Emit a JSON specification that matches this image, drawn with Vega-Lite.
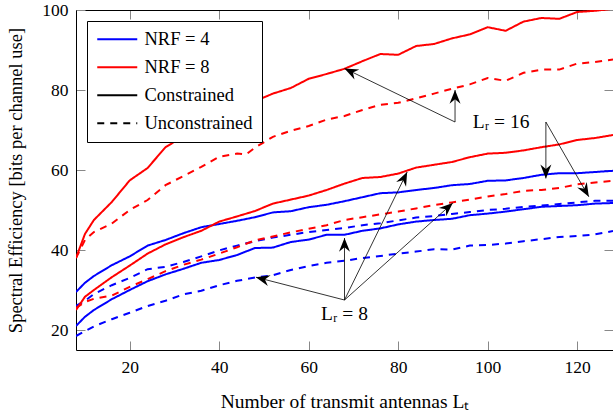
{
"$schema":"https://vega.github.io/schema/vega-lite/v6.json",
"width":537,"height":340,
"autosize":{"type":"none"},
"padding":{"left":76,"top":10,"right":0,"bottom":66},
"config":{
 "font":"Liberation Serif",
 "view":{"stroke":null},
 "text":{"font":"Liberation Serif"},
 "style":{"guide-label":{"font":"Liberation Serif"},"guide-title":{"font":"Liberation Serif"}},
 "axis":{"labelFontSize":17.5,"titleFontSize":18.5,"labelColor":"#000","titleColor":"#000","titleFontWeight":"normal","domainColor":"#000","domainWidth":1,"tickColor":"#888","tickSize":-9,"labelPadding":17,"grid":false,"labelFont":"Liberation Serif","titleFont":"Liberation Serif"},
 "legend":{"padding":9,"strokeColor":"#000","fillColor":"#fff","strokeWidth":1,"cornerRadius":0,"labelFontSize":18.5,"labelColor":"#000","labelFont":"Liberation Serif","labelLimit":0,"symbolType":"M-2.5,0H2.5","symbolSize":256,"symbolStrokeWidth":2,"symbolOffset":12,"labelOffset":18,"rowPadding":9}
},
"layer":[
{
 "data":{"values":[
{"Lt":8,"SE":38,"N":"NRF = 8","T":"Constrained","Lr":16},{"Lt":10,"SE":44,"N":"NRF = 8","T":"Constrained","Lr":16},{"Lt":12,"SE":47.5,"N":"NRF = 8","T":"Constrained","Lr":16},{"Lt":16,"SE":52,"N":"NRF = 8","T":"Constrained","Lr":16},{"Lt":20,"SE":57.4,"N":"NRF = 8","T":"Constrained","Lr":16},{"Lt":24,"SE":60.5,"N":"NRF = 8","T":"Constrained","Lr":16},{"Lt":28,"SE":65.7,"N":"NRF = 8","T":"Constrained","Lr":16},{"Lt":32,"SE":68.4,"N":"NRF = 8","T":"Constrained","Lr":16},{"Lt":36,"SE":71,"N":"NRF = 8","T":"Constrained","Lr":16},{"Lt":40,"SE":73.1,"N":"NRF = 8","T":"Constrained","Lr":16},{"Lt":44,"SE":75.1,"N":"NRF = 8","T":"Constrained","Lr":16},{"Lt":48,"SE":77.2,"N":"NRF = 8","T":"Constrained","Lr":16},{"Lt":52,"SE":79.1,"N":"NRF = 8","T":"Constrained","Lr":16},{"Lt":56,"SE":80.5,"N":"NRF = 8","T":"Constrained","Lr":16},{"Lt":60,"SE":82.8,"N":"NRF = 8","T":"Constrained","Lr":16},{"Lt":64,"SE":84,"N":"NRF = 8","T":"Constrained","Lr":16},{"Lt":68,"SE":85.3,"N":"NRF = 8","T":"Constrained","Lr":16},{"Lt":72,"SE":87.2,"N":"NRF = 8","T":"Constrained","Lr":16},{"Lt":76,"SE":89,"N":"NRF = 8","T":"Constrained","Lr":16},{"Lt":80,"SE":88.8,"N":"NRF = 8","T":"Constrained","Lr":16},{"Lt":84,"SE":91,"N":"NRF = 8","T":"Constrained","Lr":16},{"Lt":88,"SE":91.5,"N":"NRF = 8","T":"Constrained","Lr":16},{"Lt":92,"SE":92.9,"N":"NRF = 8","T":"Constrained","Lr":16},{"Lt":96,"SE":93.9,"N":"NRF = 8","T":"Constrained","Lr":16},{"Lt":100,"SE":95.7,"N":"NRF = 8","T":"Constrained","Lr":16},{"Lt":104,"SE":94.8,"N":"NRF = 8","T":"Constrained","Lr":16},{"Lt":108,"SE":97.1,"N":"NRF = 8","T":"Constrained","Lr":16},{"Lt":112,"SE":98,"N":"NRF = 8","T":"Constrained","Lr":16},{"Lt":116,"SE":97.8,"N":"NRF = 8","T":"Constrained","Lr":16},{"Lt":120,"SE":99.5,"N":"NRF = 8","T":"Constrained","Lr":16},{"Lt":124,"SE":99.8,"N":"NRF = 8","T":"Constrained","Lr":16},{"Lt":128,"SE":100.3,"N":"NRF = 8","T":"Constrained","Lr":16},
{"Lt":8,"SE":38,"N":"NRF = 8","T":"Unconstrained","Lr":16},{"Lt":10,"SE":42.5,"N":"NRF = 8","T":"Unconstrained","Lr":16},{"Lt":12,"SE":44.5,"N":"NRF = 8","T":"Unconstrained","Lr":16},{"Lt":16,"SE":46.6,"N":"NRF = 8","T":"Unconstrained","Lr":16},{"Lt":20,"SE":50,"N":"NRF = 8","T":"Unconstrained","Lr":16},{"Lt":24,"SE":52.5,"N":"NRF = 8","T":"Unconstrained","Lr":16},{"Lt":28,"SE":56.2,"N":"NRF = 8","T":"Unconstrained","Lr":16},{"Lt":32,"SE":58.5,"N":"NRF = 8","T":"Unconstrained","Lr":16},{"Lt":36,"SE":60.8,"N":"NRF = 8","T":"Unconstrained","Lr":16},{"Lt":40,"SE":63.3,"N":"NRF = 8","T":"Unconstrained","Lr":16},{"Lt":44,"SE":64.1,"N":"NRF = 8","T":"Unconstrained","Lr":16},{"Lt":46,"SE":63.9,"N":"NRF = 8","T":"Unconstrained","Lr":16},{"Lt":48,"SE":65.6,"N":"NRF = 8","T":"Unconstrained","Lr":16},{"Lt":52,"SE":68.3,"N":"NRF = 8","T":"Unconstrained","Lr":16},{"Lt":56,"SE":69.8,"N":"NRF = 8","T":"Unconstrained","Lr":16},{"Lt":60,"SE":71,"N":"NRF = 8","T":"Unconstrained","Lr":16},{"Lt":64,"SE":72.6,"N":"NRF = 8","T":"Unconstrained","Lr":16},{"Lt":68,"SE":73.5,"N":"NRF = 8","T":"Unconstrained","Lr":16},{"Lt":72,"SE":75,"N":"NRF = 8","T":"Unconstrained","Lr":16},{"Lt":76,"SE":76.3,"N":"NRF = 8","T":"Unconstrained","Lr":16},{"Lt":80,"SE":76.8,"N":"NRF = 8","T":"Unconstrained","Lr":16},{"Lt":84,"SE":77.9,"N":"NRF = 8","T":"Unconstrained","Lr":16},{"Lt":88,"SE":79.1,"N":"NRF = 8","T":"Unconstrained","Lr":16},{"Lt":92,"SE":80.3,"N":"NRF = 8","T":"Unconstrained","Lr":16},{"Lt":96,"SE":81.4,"N":"NRF = 8","T":"Unconstrained","Lr":16},{"Lt":100,"SE":83,"N":"NRF = 8","T":"Unconstrained","Lr":16},{"Lt":104,"SE":82.3,"N":"NRF = 8","T":"Unconstrained","Lr":16},{"Lt":108,"SE":84.3,"N":"NRF = 8","T":"Unconstrained","Lr":16},{"Lt":112,"SE":85.1,"N":"NRF = 8","T":"Unconstrained","Lr":16},{"Lt":116,"SE":85.1,"N":"NRF = 8","T":"Unconstrained","Lr":16},{"Lt":120,"SE":86.6,"N":"NRF = 8","T":"Unconstrained","Lr":16},{"Lt":124,"SE":87,"N":"NRF = 8","T":"Unconstrained","Lr":16},{"Lt":128,"SE":87.6,"N":"NRF = 8","T":"Unconstrained","Lr":16},
{"Lt":8,"SE":29.5,"N":"NRF = 4","T":"Constrained","Lr":16},{"Lt":10,"SE":31.8,"N":"NRF = 4","T":"Constrained","Lr":16},{"Lt":12,"SE":33.5,"N":"NRF = 4","T":"Constrained","Lr":16},{"Lt":16,"SE":36.2,"N":"NRF = 4","T":"Constrained","Lr":16},{"Lt":20,"SE":38.4,"N":"NRF = 4","T":"Constrained","Lr":16},{"Lt":24,"SE":41.1,"N":"NRF = 4","T":"Constrained","Lr":16},{"Lt":28,"SE":42.5,"N":"NRF = 4","T":"Constrained","Lr":16},{"Lt":32,"SE":44.2,"N":"NRF = 4","T":"Constrained","Lr":16},{"Lt":36,"SE":45.7,"N":"NRF = 4","T":"Constrained","Lr":16},{"Lt":40,"SE":46.5,"N":"NRF = 4","T":"Constrained","Lr":16},{"Lt":44,"SE":47.3,"N":"NRF = 4","T":"Constrained","Lr":16},{"Lt":48,"SE":48.2,"N":"NRF = 4","T":"Constrained","Lr":16},{"Lt":52,"SE":49.4,"N":"NRF = 4","T":"Constrained","Lr":16},{"Lt":56,"SE":49.7,"N":"NRF = 4","T":"Constrained","Lr":16},{"Lt":60,"SE":50.7,"N":"NRF = 4","T":"Constrained","Lr":16},{"Lt":64,"SE":51.3,"N":"NRF = 4","T":"Constrained","Lr":16},{"Lt":68,"SE":52.2,"N":"NRF = 4","T":"Constrained","Lr":16},{"Lt":72,"SE":53.2,"N":"NRF = 4","T":"Constrained","Lr":16},{"Lt":76,"SE":54.2,"N":"NRF = 4","T":"Constrained","Lr":16},{"Lt":80,"SE":54.4,"N":"NRF = 4","T":"Constrained","Lr":16},{"Lt":84,"SE":55,"N":"NRF = 4","T":"Constrained","Lr":16},{"Lt":88,"SE":55.5,"N":"NRF = 4","T":"Constrained","Lr":16},{"Lt":92,"SE":56.2,"N":"NRF = 4","T":"Constrained","Lr":16},{"Lt":96,"SE":56.5,"N":"NRF = 4","T":"Constrained","Lr":16},{"Lt":100,"SE":57.3,"N":"NRF = 4","T":"Constrained","Lr":16},{"Lt":104,"SE":57.4,"N":"NRF = 4","T":"Constrained","Lr":16},{"Lt":108,"SE":58,"N":"NRF = 4","T":"Constrained","Lr":16},{"Lt":112,"SE":58.8,"N":"NRF = 4","T":"Constrained","Lr":16},{"Lt":116,"SE":59.2,"N":"NRF = 4","T":"Constrained","Lr":16},{"Lt":120,"SE":59.2,"N":"NRF = 4","T":"Constrained","Lr":16},{"Lt":124,"SE":59.5,"N":"NRF = 4","T":"Constrained","Lr":16},{"Lt":128,"SE":59.8,"N":"NRF = 4","T":"Constrained","Lr":16},
{"Lt":8,"SE":26,"N":"NRF = 4","T":"Unconstrained","Lr":16},{"Lt":10,"SE":27.3,"N":"NRF = 4","T":"Unconstrained","Lr":16},{"Lt":12,"SE":29,"N":"NRF = 4","T":"Unconstrained","Lr":16},{"Lt":16,"SE":31.2,"N":"NRF = 4","T":"Unconstrained","Lr":16},{"Lt":20,"SE":33,"N":"NRF = 4","T":"Unconstrained","Lr":16},{"Lt":24,"SE":35.2,"N":"NRF = 4","T":"Unconstrained","Lr":16},{"Lt":28,"SE":35.8,"N":"NRF = 4","T":"Unconstrained","Lr":16},{"Lt":32,"SE":37,"N":"NRF = 4","T":"Unconstrained","Lr":16},{"Lt":36,"SE":38.4,"N":"NRF = 4","T":"Unconstrained","Lr":16},{"Lt":40,"SE":39.9,"N":"NRF = 4","T":"Unconstrained","Lr":16},{"Lt":44,"SE":41.1,"N":"NRF = 4","T":"Unconstrained","Lr":16},{"Lt":48,"SE":42.2,"N":"NRF = 4","T":"Unconstrained","Lr":16},{"Lt":52,"SE":43.1,"N":"NRF = 4","T":"Unconstrained","Lr":16},{"Lt":56,"SE":43.8,"N":"NRF = 4","T":"Unconstrained","Lr":16},{"Lt":60,"SE":44.5,"N":"NRF = 4","T":"Unconstrained","Lr":16},{"Lt":64,"SE":45,"N":"NRF = 4","T":"Unconstrained","Lr":16},{"Lt":68,"SE":45.5,"N":"NRF = 4","T":"Unconstrained","Lr":16},{"Lt":72,"SE":46.2,"N":"NRF = 4","T":"Unconstrained","Lr":16},{"Lt":76,"SE":46.7,"N":"NRF = 4","T":"Unconstrained","Lr":16},{"Lt":80,"SE":47.4,"N":"NRF = 4","T":"Unconstrained","Lr":16},{"Lt":84,"SE":48.1,"N":"NRF = 4","T":"Unconstrained","Lr":16},{"Lt":88,"SE":48.5,"N":"NRF = 4","T":"Unconstrained","Lr":16},{"Lt":92,"SE":49,"N":"NRF = 4","T":"Unconstrained","Lr":16},{"Lt":96,"SE":49.5,"N":"NRF = 4","T":"Unconstrained","Lr":16},{"Lt":100,"SE":50,"N":"NRF = 4","T":"Unconstrained","Lr":16},{"Lt":104,"SE":50.3,"N":"NRF = 4","T":"Unconstrained","Lr":16},{"Lt":108,"SE":50.8,"N":"NRF = 4","T":"Unconstrained","Lr":16},{"Lt":112,"SE":51.1,"N":"NRF = 4","T":"Unconstrained","Lr":16},{"Lt":116,"SE":51.5,"N":"NRF = 4","T":"Unconstrained","Lr":16},{"Lt":120,"SE":51.9,"N":"NRF = 4","T":"Unconstrained","Lr":16},{"Lt":124,"SE":52.3,"N":"NRF = 4","T":"Unconstrained","Lr":16},{"Lt":128,"SE":52.3,"N":"NRF = 4","T":"Unconstrained","Lr":16},
{"Lt":8,"SE":25,"N":"NRF = 8","T":"Constrained","Lr":8},{"Lt":10,"SE":28.3,"N":"NRF = 8","T":"Constrained","Lr":8},{"Lt":12,"SE":30,"N":"NRF = 8","T":"Constrained","Lr":8},{"Lt":16,"SE":33.2,"N":"NRF = 8","T":"Constrained","Lr":8},{"Lt":20,"SE":36.1,"N":"NRF = 8","T":"Constrained","Lr":8},{"Lt":24,"SE":39.1,"N":"NRF = 8","T":"Constrained","Lr":8},{"Lt":28,"SE":41.4,"N":"NRF = 8","T":"Constrained","Lr":8},{"Lt":32,"SE":43.2,"N":"NRF = 8","T":"Constrained","Lr":8},{"Lt":36,"SE":44.8,"N":"NRF = 8","T":"Constrained","Lr":8},{"Lt":40,"SE":47.1,"N":"NRF = 8","T":"Constrained","Lr":8},{"Lt":44,"SE":48.4,"N":"NRF = 8","T":"Constrained","Lr":8},{"Lt":48,"SE":49.75,"N":"NRF = 8","T":"Constrained","Lr":8},{"Lt":52,"SE":51.6,"N":"NRF = 8","T":"Constrained","Lr":8},{"Lt":56,"SE":52.6,"N":"NRF = 8","T":"Constrained","Lr":8},{"Lt":60,"SE":53.6,"N":"NRF = 8","T":"Constrained","Lr":8},{"Lt":64,"SE":55,"N":"NRF = 8","T":"Constrained","Lr":8},{"Lt":68,"SE":56.6,"N":"NRF = 8","T":"Constrained","Lr":8},{"Lt":72,"SE":58,"N":"NRF = 8","T":"Constrained","Lr":8},{"Lt":76,"SE":58.25,"N":"NRF = 8","T":"Constrained","Lr":8},{"Lt":80,"SE":59.1,"N":"NRF = 8","T":"Constrained","Lr":8},{"Lt":84,"SE":60.6,"N":"NRF = 8","T":"Constrained","Lr":8},{"Lt":88,"SE":61.3,"N":"NRF = 8","T":"Constrained","Lr":8},{"Lt":92,"SE":62,"N":"NRF = 8","T":"Constrained","Lr":8},{"Lt":96,"SE":63.2,"N":"NRF = 8","T":"Constrained","Lr":8},{"Lt":100,"SE":64.1,"N":"NRF = 8","T":"Constrained","Lr":8},{"Lt":104,"SE":64.3,"N":"NRF = 8","T":"Constrained","Lr":8},{"Lt":108,"SE":64.9,"N":"NRF = 8","T":"Constrained","Lr":8},{"Lt":112,"SE":65.7,"N":"NRF = 8","T":"Constrained","Lr":8},{"Lt":116,"SE":66.4,"N":"NRF = 8","T":"Constrained","Lr":8},{"Lt":120,"SE":67.5,"N":"NRF = 8","T":"Constrained","Lr":8},{"Lt":124,"SE":68,"N":"NRF = 8","T":"Constrained","Lr":8},{"Lt":128,"SE":68.75,"N":"NRF = 8","T":"Constrained","Lr":8},
{"Lt":8,"SE":25.5,"N":"NRF = 8","T":"Unconstrained","Lr":8},{"Lt":10,"SE":27,"N":"NRF = 8","T":"Unconstrained","Lr":8},{"Lt":12,"SE":27.8,"N":"NRF = 8","T":"Unconstrained","Lr":8},{"Lt":16,"SE":28.6,"N":"NRF = 8","T":"Unconstrained","Lr":8},{"Lt":20,"SE":30.8,"N":"NRF = 8","T":"Unconstrained","Lr":8},{"Lt":24,"SE":32.7,"N":"NRF = 8","T":"Unconstrained","Lr":8},{"Lt":28,"SE":34.7,"N":"NRF = 8","T":"Unconstrained","Lr":8},{"Lt":32,"SE":36.3,"N":"NRF = 8","T":"Unconstrained","Lr":8},{"Lt":36,"SE":37.6,"N":"NRF = 8","T":"Unconstrained","Lr":8},{"Lt":40,"SE":39.1,"N":"NRF = 8","T":"Unconstrained","Lr":8},{"Lt":44,"SE":40.7,"N":"NRF = 8","T":"Unconstrained","Lr":8},{"Lt":48,"SE":42.4,"N":"NRF = 8","T":"Unconstrained","Lr":8},{"Lt":52,"SE":43.4,"N":"NRF = 8","T":"Unconstrained","Lr":8},{"Lt":56,"SE":44.4,"N":"NRF = 8","T":"Unconstrained","Lr":8},{"Lt":60,"SE":45.3,"N":"NRF = 8","T":"Unconstrained","Lr":8},{"Lt":64,"SE":46.2,"N":"NRF = 8","T":"Unconstrained","Lr":8},{"Lt":68,"SE":47.5,"N":"NRF = 8","T":"Unconstrained","Lr":8},{"Lt":72,"SE":48.2,"N":"NRF = 8","T":"Unconstrained","Lr":8},{"Lt":76,"SE":48.9,"N":"NRF = 8","T":"Unconstrained","Lr":8},{"Lt":80,"SE":49.6,"N":"NRF = 8","T":"Unconstrained","Lr":8},{"Lt":84,"SE":50.4,"N":"NRF = 8","T":"Unconstrained","Lr":8},{"Lt":88,"SE":51.2,"N":"NRF = 8","T":"Unconstrained","Lr":8},{"Lt":92,"SE":51.9,"N":"NRF = 8","T":"Unconstrained","Lr":8},{"Lt":96,"SE":52.6,"N":"NRF = 8","T":"Unconstrained","Lr":8},{"Lt":100,"SE":53.4,"N":"NRF = 8","T":"Unconstrained","Lr":8},{"Lt":104,"SE":54,"N":"NRF = 8","T":"Unconstrained","Lr":8},{"Lt":108,"SE":54.8,"N":"NRF = 8","T":"Unconstrained","Lr":8},{"Lt":112,"SE":55,"N":"NRF = 8","T":"Unconstrained","Lr":8},{"Lt":116,"SE":55.5,"N":"NRF = 8","T":"Unconstrained","Lr":8},{"Lt":120,"SE":56.4,"N":"NRF = 8","T":"Unconstrained","Lr":8},{"Lt":124,"SE":56.9,"N":"NRF = 8","T":"Unconstrained","Lr":8},{"Lt":128,"SE":57.3,"N":"NRF = 8","T":"Unconstrained","Lr":8},
{"Lt":8,"SE":21,"N":"NRF = 4","T":"Constrained","Lr":8},{"Lt":10,"SE":23.3,"N":"NRF = 4","T":"Constrained","Lr":8},{"Lt":12,"SE":25,"N":"NRF = 4","T":"Constrained","Lr":8},{"Lt":16,"SE":27.7,"N":"NRF = 4","T":"Constrained","Lr":8},{"Lt":20,"SE":30,"N":"NRF = 4","T":"Constrained","Lr":8},{"Lt":24,"SE":32.2,"N":"NRF = 4","T":"Constrained","Lr":8},{"Lt":28,"SE":33.9,"N":"NRF = 4","T":"Constrained","Lr":8},{"Lt":32,"SE":35.3,"N":"NRF = 4","T":"Constrained","Lr":8},{"Lt":36,"SE":36.8,"N":"NRF = 4","T":"Constrained","Lr":8},{"Lt":40,"SE":37.5,"N":"NRF = 4","T":"Constrained","Lr":8},{"Lt":44,"SE":38.75,"N":"NRF = 4","T":"Constrained","Lr":8},{"Lt":48,"SE":40.5,"N":"NRF = 4","T":"Constrained","Lr":8},{"Lt":52,"SE":40.6,"N":"NRF = 4","T":"Constrained","Lr":8},{"Lt":56,"SE":42,"N":"NRF = 4","T":"Constrained","Lr":8},{"Lt":60,"SE":42.6,"N":"NRF = 4","T":"Constrained","Lr":8},{"Lt":64,"SE":43.8,"N":"NRF = 4","T":"Constrained","Lr":8},{"Lt":68,"SE":43.8,"N":"NRF = 4","T":"Constrained","Lr":8},{"Lt":72,"SE":44.8,"N":"NRF = 4","T":"Constrained","Lr":8},{"Lt":76,"SE":45.4,"N":"NRF = 4","T":"Constrained","Lr":8},{"Lt":80,"SE":46.4,"N":"NRF = 4","T":"Constrained","Lr":8},{"Lt":84,"SE":47.1,"N":"NRF = 4","T":"Constrained","Lr":8},{"Lt":88,"SE":47.5,"N":"NRF = 4","T":"Constrained","Lr":8},{"Lt":92,"SE":47.8,"N":"NRF = 4","T":"Constrained","Lr":8},{"Lt":96,"SE":48.7,"N":"NRF = 4","T":"Constrained","Lr":8},{"Lt":100,"SE":49.1,"N":"NRF = 4","T":"Constrained","Lr":8},{"Lt":104,"SE":49.6,"N":"NRF = 4","T":"Constrained","Lr":8},{"Lt":108,"SE":50.2,"N":"NRF = 4","T":"Constrained","Lr":8},{"Lt":112,"SE":50.8,"N":"NRF = 4","T":"Constrained","Lr":8},{"Lt":116,"SE":51,"N":"NRF = 4","T":"Constrained","Lr":8},{"Lt":120,"SE":51.2,"N":"NRF = 4","T":"Constrained","Lr":8},{"Lt":124,"SE":51.6,"N":"NRF = 4","T":"Constrained","Lr":8},{"Lt":128,"SE":51.75,"N":"NRF = 4","T":"Constrained","Lr":8},
{"Lt":8,"SE":18.5,"N":"NRF = 4","T":"Unconstrained","Lr":8},{"Lt":10,"SE":19.7,"N":"NRF = 4","T":"Unconstrained","Lr":8},{"Lt":12,"SE":20.9,"N":"NRF = 4","T":"Unconstrained","Lr":8},{"Lt":16,"SE":22.7,"N":"NRF = 4","T":"Unconstrained","Lr":8},{"Lt":20,"SE":24.3,"N":"NRF = 4","T":"Unconstrained","Lr":8},{"Lt":24,"SE":26,"N":"NRF = 4","T":"Unconstrained","Lr":8},{"Lt":28,"SE":27.3,"N":"NRF = 4","T":"Unconstrained","Lr":8},{"Lt":32,"SE":28.9,"N":"NRF = 4","T":"Unconstrained","Lr":8},{"Lt":36,"SE":29.8,"N":"NRF = 4","T":"Unconstrained","Lr":8},{"Lt":40,"SE":31.2,"N":"NRF = 4","T":"Unconstrained","Lr":8},{"Lt":44,"SE":32.3,"N":"NRF = 4","T":"Unconstrained","Lr":8},{"Lt":48,"SE":33.1,"N":"NRF = 4","T":"Unconstrained","Lr":8},{"Lt":52,"SE":33.7,"N":"NRF = 4","T":"Unconstrained","Lr":8},{"Lt":56,"SE":35,"N":"NRF = 4","T":"Unconstrained","Lr":8},{"Lt":60,"SE":36,"N":"NRF = 4","T":"Unconstrained","Lr":8},{"Lt":64,"SE":36.8,"N":"NRF = 4","T":"Unconstrained","Lr":8},{"Lt":68,"SE":37.3,"N":"NRF = 4","T":"Unconstrained","Lr":8},{"Lt":72,"SE":38,"N":"NRF = 4","T":"Unconstrained","Lr":8},{"Lt":76,"SE":38.5,"N":"NRF = 4","T":"Unconstrained","Lr":8},{"Lt":80,"SE":39.1,"N":"NRF = 4","T":"Unconstrained","Lr":8},{"Lt":84,"SE":39.6,"N":"NRF = 4","T":"Unconstrained","Lr":8},{"Lt":88,"SE":40.2,"N":"NRF = 4","T":"Unconstrained","Lr":8},{"Lt":92,"SE":40.1,"N":"NRF = 4","T":"Unconstrained","Lr":8},{"Lt":96,"SE":41.1,"N":"NRF = 4","T":"Unconstrained","Lr":8},{"Lt":100,"SE":41.25,"N":"NRF = 4","T":"Unconstrained","Lr":8},{"Lt":104,"SE":41.6,"N":"NRF = 4","T":"Unconstrained","Lr":8},{"Lt":108,"SE":42.2,"N":"NRF = 4","T":"Unconstrained","Lr":8},{"Lt":112,"SE":42.7,"N":"NRF = 4","T":"Unconstrained","Lr":8},{"Lt":116,"SE":43.25,"N":"NRF = 4","T":"Unconstrained","Lr":8},{"Lt":120,"SE":43.5,"N":"NRF = 4","T":"Unconstrained","Lr":8},{"Lt":124,"SE":43.9,"N":"NRF = 4","T":"Unconstrained","Lr":8},{"Lt":128,"SE":44.75,"N":"NRF = 4","T":"Unconstrained","Lr":8}
 ]},
 "mark":{"type":"line","strokeWidth":2,"clip":true},
 "encoding":{
  "x":{"field":"Lt","type":"quantitative","scale":{"domain":[8,128],"nice":false,"zero":false},"axis":{"orient":"bottom","values":[20,40,60,80,100,120],"title":"Number of transmit antennas Lₜ","titlePadding":17,"titleFontSize":19.5}},
  "y":{"field":"SE","type":"quantitative","scale":{"domain":[15,100],"nice":false,"zero":false},"axis":{"orient":"left","values":[20,40,60,80,100],"title":"Spectral Efficiency [bits per channel use]","titlePadding":16}},
  "color":{"field":"N","type":"nominal","scale":{"domain":["NRF = 4","NRF = 8","Constrained","Unconstrained"],"range":["#0000ff","#ff0000","#000000","#000000"]},"legend":{"title":null,"orient":"none","legendX":11,"legendY":11,"labelFont":"Liberation Serif","labelFontSize":18.5,"encode":{"labels":{"enter":{"font":{"value":"Liberation Serif"}},"update":{"font":{"value":"Liberation Serif"},"fontSize":{"value":18.5}}}}}},
  "strokeDash":{"field":"T","type":"nominal","scale":{"domain":["NRF = 4","NRF = 8","Constrained","Unconstrained"],"range":[[1,0],[1,0],[1,0],[7,6]]},"legend":{"title":null,"orient":"none","legendX":11,"legendY":11,"labelFont":"Liberation Serif","labelFontSize":18.5,"encode":{"labels":{"enter":{"font":{"value":"Liberation Serif"}},"update":{"font":{"value":"Liberation Serif"},"fontSize":{"value":18.5}}}}}},
  "detail":{"field":"Lr","type":"nominal"}
 }
},
{
 "data":{"name":"arrows","values":[
  {"x1":92.7,"y1":72,"x2":68,"y2":85.4},
  {"x1":92.7,"y1":72,"x2":92.7,"y2":80},
  {"x1":113,"y1":72,"x2":113,"y2":57.9},
  {"x1":113,"y1":72,"x2":122.6,"y2":53.3},
  {"x1":68,"y1":27.5,"x2":48.2,"y2":33.2},
  {"x1":68,"y1":27.5,"x2":68,"y2":43},
  {"x1":68,"y1":27.5,"x2":82,"y2":59.5},
  {"x1":68,"y1":27.5,"x2":92.2,"y2":51.75}
 ]},
 "mark":{"type":"rule","strokeWidth":0.8,"color":"#000"},
 "encoding":{
  "x":{"field":"x1","type":"quantitative","axis":{"orient":"top","labels":false,"title":null,"values":[20,40,60,80,100,120]}},
  "y":{"field":"y1","type":"quantitative","axis":{"orient":"right","labels":false,"title":null,"domain":false,"values":[20,40,60,80,100]}},
  "x2":{"field":"x2"},
  "y2":{"field":"y2"}
 }
},
{
 "data":{"name":"arrows"},
 "transform":[{"calculate":"atan2((datum.x2-datum.x1)*4.475,(datum.y2-datum.y1)*4)*180/PI","as":"ang"}],
 "mark":{"type":"point","shape":"M0,0L0.8,2L0,1.35L-0.8,2Z","filled":true,"color":"#000","opacity":1,"size":190},
 "encoding":{
  "x":{"field":"x2","type":"quantitative","axis":null},
  "y":{"field":"y2","type":"quantitative","axis":null},
  "angle":{"field":"ang","type":"quantitative","scale":null}
 }
},
{
 "data":{"values":[{"x":103,"y":72,"t":"Lᵣ = 16"},{"x":68,"y":24,"t":"Lᵣ = 8"}]},
 "mark":{"type":"text","fontSize":19.5,"align":"center","baseline":"middle","color":"#000","font":"Liberation Serif"},
 "encoding":{
  "x":{"field":"x","type":"quantitative","axis":null},
  "y":{"field":"y","type":"quantitative","axis":null},
  "text":{"field":"t"}
 }
}
]
}
